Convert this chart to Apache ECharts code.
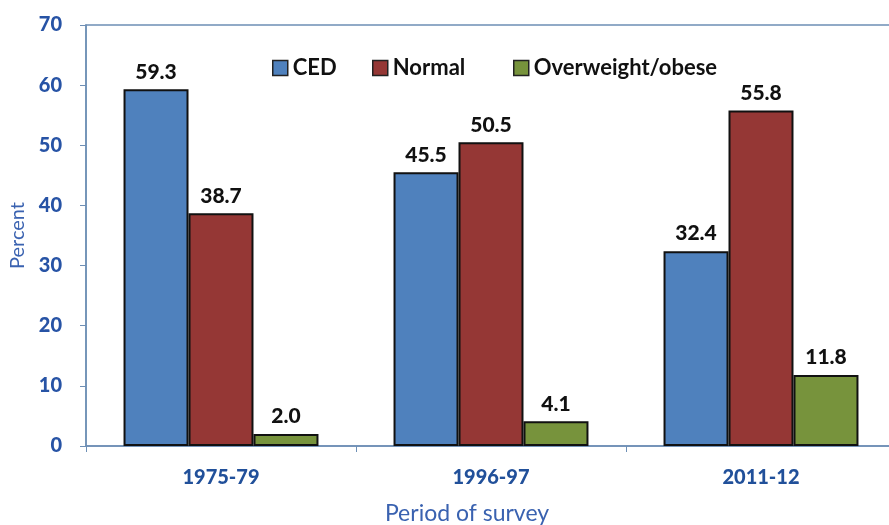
<!DOCTYPE html>
<html><head><meta charset="utf-8">
<script src="https://cdn.jsdelivr.net/npm/echarts@6/dist/echarts.min.js"></script>
<style>html,body{margin:0;padding:0;background:#fff}#c{width:889px;height:525px}</style>
</head><body><div id="c"></div>
<script>
const categories = ['1975-79', '1996-97', '2011-12'];
const seriesNames = ['CED', 'Normal', 'Overweight/obese'];
const ced = [59.3, 45.5, 32.4];
const normal = [38.7, 50.5, 55.8];
const overweight = [2.0, 4.1, 11.8];
const yTicks = [0, 10, 20, 30, 40, 50, 60, 70];

const colors = ['#4F81BD', '#953735', '#77933C'];
const font = 'Lato, "Open Sans", sans-serif';
const chart = echarts.init(document.getElementById('c'));
const mk = (name, data, i) => ({
  name, type: 'bar', data, barGap: '0%', barCategoryGap: '27.8%',
  itemStyle: { color: colors[i], borderColor: '#111', borderWidth: 2 },
  label: { show: true, position: 'top', distance: 7, formatter: p => p.value.toFixed(1),
    fontFamily: font, fontWeight: 900, fontSize: 21, color: '#111' }
});
const legendLefts = [272, 372, 513];
const mkLegend = (name, left) => ({
  data: [name], top: 57, left, padding: 0, itemWidth: 15, itemHeight: 15, icon: 'rect',
  itemStyle: { borderColor: '#222', borderWidth: 1.5 },
  textStyle: { fontFamily: font, fontWeight: 'bold', fontSize: 22, color: '#111' }
});
chart.setOption({
  animation: false,
  grid: { left: 86, top: 25, width: 810, height: 421, outerBoundsMode: 'none', containLabel: false,
    show: true, borderColor: '#6E8FB5', borderWidth: 1.5 },
  legend: seriesNames.map((n, i) => mkLegend(n, legendLefts[i])),
  xAxis: {
    type: 'category', data: categories,
    name: 'Period of survey', nameLocation: 'middle', nameGap: 56,
    nameTextStyle: { fontFamily: font, fontSize: 23, color: '#3A62B0', padding: [0, 48, 0, 0] },
    axisLine: { lineStyle: { color: '#6E8FB5', width: 1.5 } },
    axisTick: { show: true, length: 6, lineStyle: { color: '#6E8FB5' } },
    axisLabel: { fontFamily: font, fontWeight: 900, fontSize: 20, color: '#21509A', margin: 22 }
  },
  yAxis: {
    type: 'value', min: yTicks[0], max: yTicks[yTicks.length - 1], interval: 10,
    name: 'Percent', nameLocation: 'middle', nameGap: 58, nameRotate: 90,
    nameTextStyle: { fontFamily: font, fontSize: 20, color: '#3A62B0' },
    splitLine: { show: false },
    axisLine: { show: true, lineStyle: { color: '#6E8FB5', width: 1.5 } },
    axisTick: { show: true, length: 6, lineStyle: { color: '#6E8FB5' } },
    axisLabel: { fontFamily: font, fontWeight: 900, fontSize: 20, color: '#2753A5', margin: 24 }
  },
  series: [mk(seriesNames[0], ced, 0), mk(seriesNames[1], normal, 1), mk(seriesNames[2], overweight, 2)]
});
</script></body></html>
